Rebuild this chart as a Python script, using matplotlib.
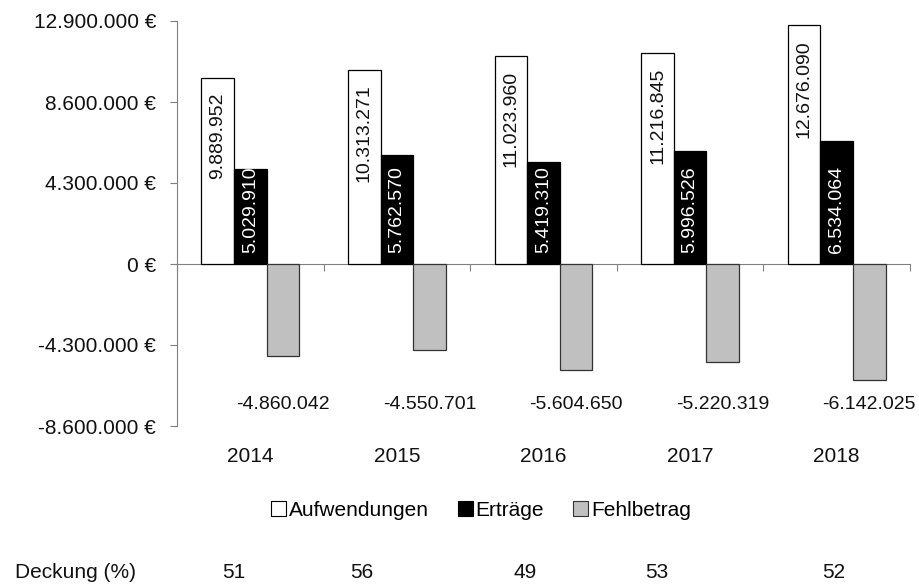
import matplotlib
matplotlib.use("Agg")
import matplotlib.pyplot as plt
from matplotlib.patches import Patch
from matplotlib.transforms import blended_transform_factory

plt.rcParams['font.family'] = ['Liberation Sans', 'DejaVu Sans']

years = ["2014", "2015", "2016", "2017", "2018"]
aufwendungen = [9889952, 10313271, 11023960, 11216845, 12676090]
ertraege = [5029910, 5762570, 5419310, 5996526, 6534064]
fehlbetrag = [-4860042, -4550701, -5604650, -5220319, -6142025]
deckung = [51, 56, 49, 53, 52]
y_ticks = [-8600000, -4300000, 0, 4300000, 8600000, 12900000]

# layout constants (figure fractions)
deckung_x = [234, 362, 525, 657, 834]

W, H = 919, 585
fig = plt.figure(figsize=(W / 100, H / 100), dpi=100)
ax = fig.add_axes([177 / W, 1 - 426 / H, 733 / W, 405 / H])

def fmt(v):
    s = f"{abs(v):,}".replace(",", ".")
    return ("-" if v < 0 else "") + s

x = list(range(len(years)))
bw = 0.222
xa = [i - bw for i in x]
xf = [i + bw for i in x]

ax.bar(xa, aufwendungen, width=bw, color="white", edgecolor="#000000", linewidth=0.9, zorder=3)
ax.bar(x, ertraege, width=bw, color="black", edgecolor="black", linewidth=0.9, zorder=3)
ax.bar(xf, fehlbetrag, width=bw, color="#c0c0c0", edgecolor="#333333", linewidth=0.9, zorder=3)

ax.set_xlim(-0.5, len(years) - 0.5)
ax.set_ylim(-8600000, 12900000)
ax.set_yticks(y_ticks)
ax.set_yticklabels([("0" if v == 0 else fmt(v)) + " €" for v in y_ticks], fontsize=15, color="#111111")
ax.tick_params(axis="y", direction="out", length=5, width=0.8, color="#808080", pad=10)

ax.spines["top"].set_visible(False)
ax.spines["right"].set_visible(False)
ax.spines["left"].set_color("#808080")
ax.spines["bottom"].set_position(("data", 0))
ax.spines["bottom"].set_color("#808080")
ax.set_xticks([i - 0.5 for i in range(len(years) + 1)])
ax.set_xticklabels([])
ax.tick_params(axis="x", direction="out", length=5, width=0.8, color="#808080")

# value labels
for xi, v in zip(xa, aufwendungen):
    ax.annotate(fmt(v), (xi, v), xytext=(0, -15), textcoords="offset pixels",
                rotation=90, ha="center", va="top", fontsize=14, color="#111111", zorder=4)
for xi, v in zip(x, ertraege):
    ax.annotate(fmt(v), (xi, 0), xytext=(0, 11), textcoords="offset pixels",
                rotation=90, ha="center", va="bottom", fontsize=14, color="white", zorder=4)
for xi, v in zip(xf, fehlbetrag):
    ax.text(xi, -7480000, fmt(v), ha="center", va="center", fontsize=14, color="#111111")

# year labels
tr = blended_transform_factory(ax.transData, ax.transAxes)
for xi, y in zip(x, years):
    ax.text(xi, -31 / 405, y, transform=tr, ha="center", va="center", fontsize=15, color="#111111")

# legend
handles = [Patch(facecolor="white", edgecolor="#000000", linewidth=0.8),
           Patch(facecolor="black", edgecolor="black", linewidth=0.8),
           Patch(facecolor="#c0c0c0", edgecolor="#333333", linewidth=0.8)]
fig.legend(handles, ["Aufwendungen", "Erträge", "Fehlbetrag"], loc="center",
           bbox_to_anchor=(481 / W, 1 - 510 / H), ncol=3, frameon=False, fontsize=15,
           handlelength=0.7, handleheight=0.7, handletextpad=0.15, columnspacing=1.4)

# Deckung row
fig.text(15 / W, 1 - 572 / H, "Deckung (%)", ha="left", va="center", fontsize=15, color="#111111")
for px, d in zip(deckung_x, deckung):
    fig.text(px / W, 1 - 572 / H, str(d), ha="center", va="center", fontsize=15, color="#111111")

fig.savefig("out.png", dpi=100)
